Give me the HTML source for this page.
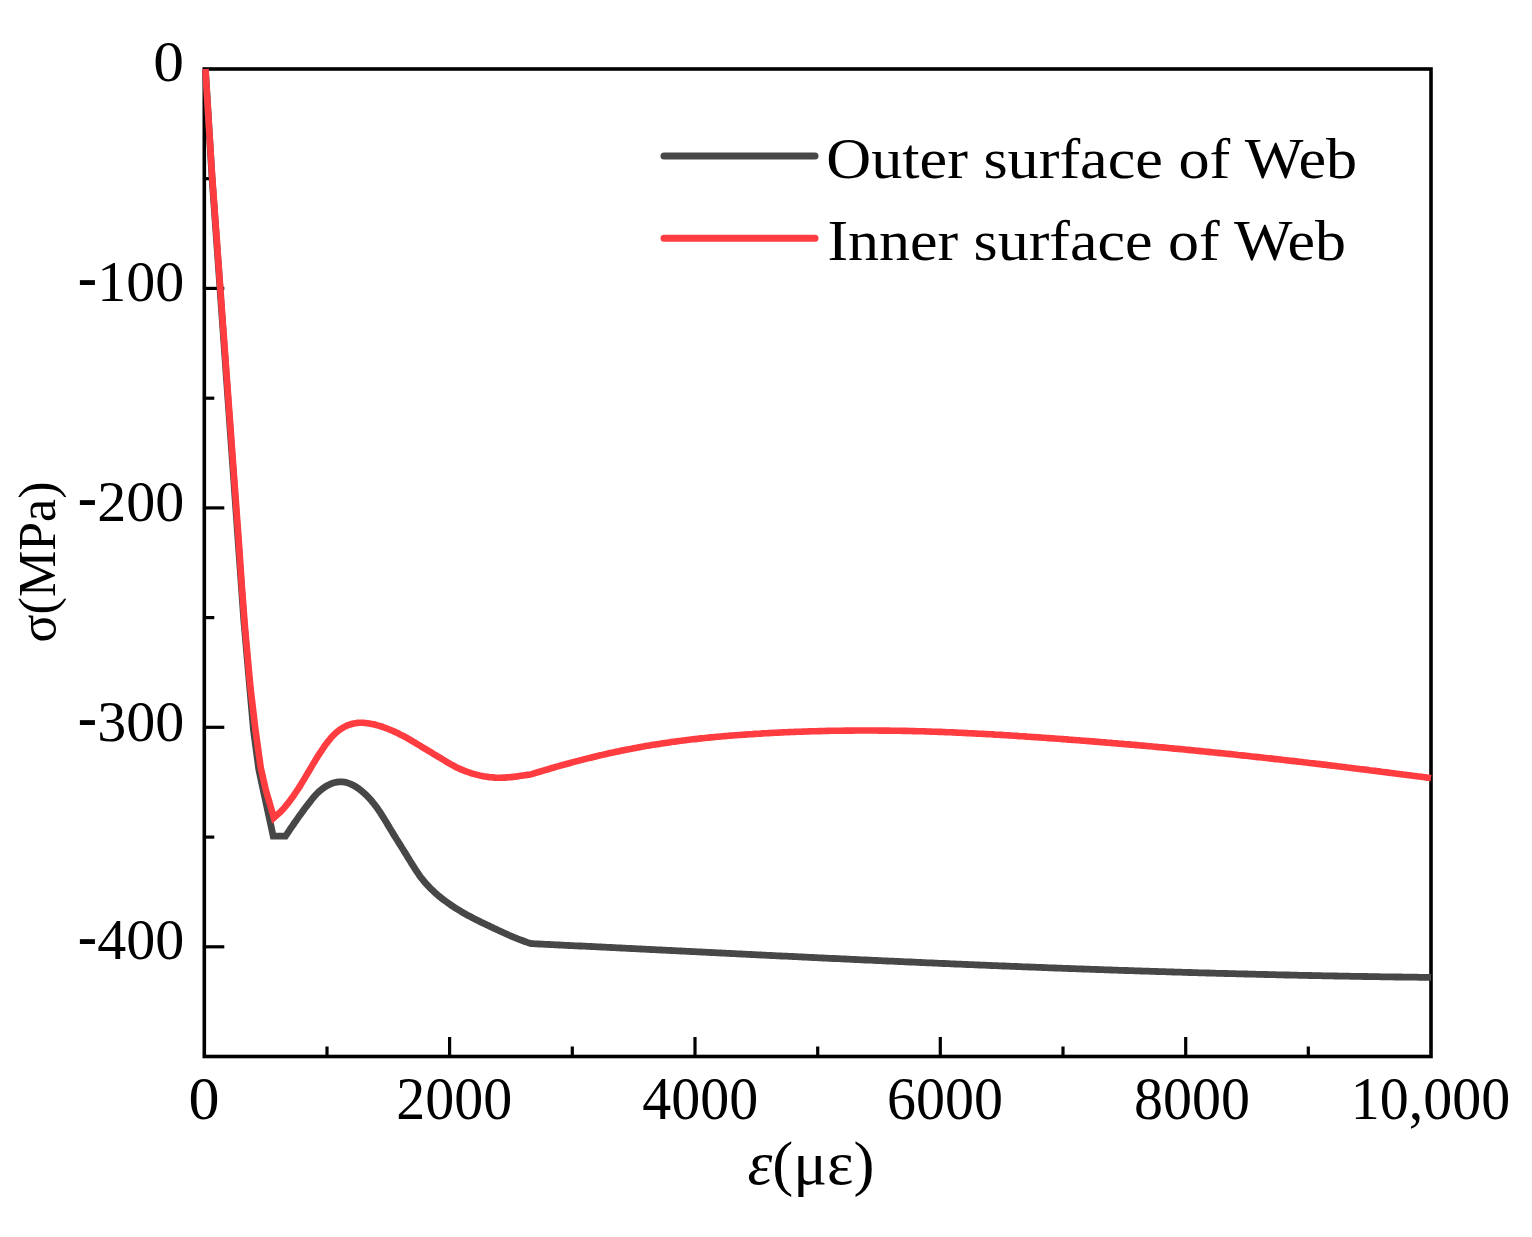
<!DOCTYPE html>
<html><head><meta charset="utf-8"><title>Stress-strain curves of web surfaces</title>
<style>
html,body{margin:0;padding:0;background:#fff;}
body{width:1532px;height:1237px;overflow:hidden;}
svg{display:block;}
text{font-family:"Liberation Serif","Times New Roman",serif;fill:#000;}
</style></head>
<body>
<svg width="1532" height="1237" viewBox="0 0 1532 1237">
<rect width="1532" height="1237" fill="#fff"/>
<g stroke="#000" stroke-width="3.2" fill="none">
<line x1="327.0" y1="1056.5" x2="327.0" y2="1046.5"/>
<line x1="449.6" y1="1056.5" x2="449.6" y2="1037.0"/>
<line x1="572.3" y1="1056.5" x2="572.3" y2="1046.5"/>
<line x1="695.0" y1="1056.5" x2="695.0" y2="1037.0"/>
<line x1="817.7" y1="1056.5" x2="817.7" y2="1046.5"/>
<line x1="940.3" y1="1056.5" x2="940.3" y2="1037.0"/>
<line x1="1063.0" y1="1056.5" x2="1063.0" y2="1046.5"/>
<line x1="1185.7" y1="1056.5" x2="1185.7" y2="1037.0"/>
<line x1="1308.3" y1="1056.5" x2="1308.3" y2="1046.5"/>
<line x1="204.3" y1="178.7" x2="214.3" y2="178.7"/>
<line x1="204.3" y1="288.4" x2="224.3" y2="288.4"/>
<line x1="204.3" y1="398.2" x2="214.3" y2="398.2"/>
<line x1="204.3" y1="507.9" x2="224.3" y2="507.9"/>
<line x1="204.3" y1="617.6" x2="214.3" y2="617.6"/>
<line x1="204.3" y1="727.3" x2="224.3" y2="727.3"/>
<line x1="204.3" y1="837.1" x2="214.3" y2="837.1"/>
<line x1="204.3" y1="946.8" x2="224.3" y2="946.8"/>
</g>
<rect x="204.3" y="69.0" width="1226.7" height="987.5" fill="none" stroke="#000" stroke-width="3.6"/>
<path d="M205.4,69L212,177L243.8,620L253.5,730L258.7,768.8L263.2,790L266.1,803.3L273.2,836.1L285.5,836.2L286.6,834.5L287.7,832.8L288.9,831.1L290,829.4L291.1,827.8L292.3,826.1L293.4,824.5L294.5,822.8L295.7,821.2L296.8,819.6L298,817.9L299.1,816.3L300.3,814.7L301.5,813.1L302.6,811.5L303.8,809.9L305,808.3L306.2,806.7L307.4,805.2L308.6,803.6L309.8,802L311.1,800.4L312.3,798.8L313.6,797.3L314.9,795.8L316.3,794.3L317.7,792.8L319.2,791.4L320.8,790.1L322.4,788.8L324.1,787.6L325.8,786.5L327.6,785.4L329.4,784.5L331.3,783.7L333.1,783L335,782.5L336.9,782.1L338.8,781.8L340.7,781.8L342.6,781.9L344.5,782.1L346.4,782.5L348.2,783.1L350.1,783.8L351.9,784.6L353.7,785.5L355.4,786.5L357.1,787.6L358.8,788.8L360.5,790.1L362.1,791.4L363.6,792.7L365.1,794.1L366.6,795.5L368,797L369.4,798.4L370.8,799.9L372.1,801.5L373.3,803L374.6,804.6L375.8,806.2L377,807.8L378.1,809.4L379.2,811.1L380.4,812.7L381.4,814.4L382.5,816.1L383.6,817.8L384.6,819.5L385.7,821.2L386.7,822.9L387.7,824.6L388.8,826.3L389.8,828.1L390.8,829.8L391.9,831.5L392.9,833.2L393.9,834.9L395,836.6L396,838.3L397.1,840L398.2,841.7L399.2,843.4L400.3,845.1L401.3,846.8L402.4,848.5L403.5,850.2L404.5,851.9L405.6,853.6L406.6,855.3L407.7,857.1L408.8,858.8L409.8,860.5L410.9,862.2L411.9,863.9L413,865.6L414.1,867.3L415.1,869L416.2,870.7L417.3,872.4L418.5,874L419.6,875.7L420.8,877.3L422.1,878.9L423.3,880.4L424.6,882L425.9,883.5L427.2,885L428.6,886.4L430,887.9L431.4,889.3L432.8,890.6L434.3,892L435.8,893.4L437.3,894.7L438.8,896L440.4,897.2L441.9,898.5L443.5,899.7L445.1,900.9L446.7,902.1L448.4,903.3L450,904.4L451.7,905.6L453.4,906.7L455.1,907.8L456.8,908.9L458.5,909.9L460.2,910.9L461.9,912L463.6,913L465.4,914L467.1,914.9L468.9,915.9L470.7,916.8L472.4,917.8L474.2,918.7L476,919.6L477.8,920.5L479.6,921.4L481.4,922.3L483.2,923.1L485,924L486.8,924.9L488.6,925.7L490.4,926.6L492.2,927.4L494,928.3L495.9,929.1L497.7,930L499.5,930.8L501.3,931.7L503.1,932.5L505,933.3L506.8,934.2L508.6,935L510.5,935.8L512.3,936.6L514.2,937.4L516,938.1L517.9,938.9L519.7,939.6L521.6,940.3L523.5,941L525.4,941.7L527.3,942.4L529.2,943L531.1,943.6L533.1,943.7L535.1,943.8L537.1,943.9L539.1,944L541.1,944.1L543.1,944.2L545.1,944.3L547.1,944.4L549.1,944.5L551.1,944.6L553.1,944.7L555.1,944.8L557.1,944.9L559.1,945L561.1,945.1L563.1,945.2L565.1,945.3L567.1,945.4L569.1,945.5L571.1,945.6L573.1,945.7L575.1,945.8L577.1,945.9L579.1,946L581.1,946L583.1,946.1L585.1,946.2L587.1,946.3L589.1,946.4L591.1,946.5L593.1,946.6L595.1,946.7L597.1,946.8L599.1,946.9L601.1,947L603.1,947.1L605.1,947.2L607.1,947.3L609.1,947.4L611.1,947.5L613.1,947.6L615,947.7L617,947.8L619,947.9L621,948L623,948.1L625,948.2L627,948.3L629,948.4L631,948.5L633,948.6L635,948.7L637,948.8L639,948.9L641,949L643,949.1L645,949.2L647,949.3L649,949.4L651,949.5L653,949.6L655,949.7L657,949.8L659,949.9L661,950L663,950.1L665,950.2L667,950.3L669,950.4L671,950.5L673,950.6L675,950.7L677,950.8L679,950.9L681,951L683,951.1L685,951.2L687,951.3L689,951.4L691,951.5L693,951.6L695,951.7L697,951.8L699,951.9L701,952L703,952.1L705,952.2L707,952.3L709,952.4L711,952.5L713,952.6L715,952.7L717,952.8L719,952.9L721,953L723,953.1L725,953.2L727,953.3L729,953.4L731,953.5L733,953.6L735,953.7L737,953.8L739,953.9L741,954L743,954.1L745,954.2L747,954.3L749,954.4L751,954.5L753,954.6L755,954.7L757,954.8L759,954.9L761,955L763,955.1L765,955.2L767,955.3L769,955.4L771,955.5L773,955.6L775,955.7L777,955.8L779,955.9L781,956L783,956.1L785,956.2L787,956.2L789,956.3L791,956.4L793,956.5L794.9,956.6L796.9,956.7L798.9,956.8L800.9,956.9L802.9,957L804.9,957.1L806.9,957.2L808.9,957.3L810.9,957.4L812.9,957.5L814.9,957.6L816.9,957.7L818.9,957.8L820.9,957.9L822.9,958L824.9,958.1L826.9,958.2L828.9,958.3L830.9,958.4L832.9,958.5L834.9,958.5L836.9,958.6L838.9,958.7L840.9,958.8L842.9,958.9L844.9,959L846.9,959.1L848.9,959.2L850.9,959.3L852.9,959.4L854.9,959.5L856.9,959.6L858.9,959.7L860.9,959.8L862.9,959.9L864.9,960L866.9,960L868.9,960.1L870.9,960.2L872.9,960.3L874.9,960.4L876.9,960.5L878.9,960.6L880.9,960.7L882.9,960.8L884.9,960.9L886.9,961L888.9,961.1L890.9,961.1L892.9,961.2L894.9,961.3L896.9,961.4L898.9,961.5L900.9,961.6L902.9,961.7L904.9,961.8L906.9,961.9L908.9,962L910.9,962L912.9,962.1L914.9,962.2L916.9,962.3L918.9,962.4L920.9,962.5L922.9,962.6L924.9,962.7L926.9,962.8L928.9,962.8L930.9,962.9L932.9,963L934.9,963.1L936.9,963.2L938.9,963.3L940.9,963.4L942.9,963.5L944.9,963.5L946.9,963.6L948.9,963.7L950.9,963.8L952.9,963.9L954.9,964L956.9,964.1L958.9,964.1L960.9,964.2L962.9,964.3L964.9,964.4L966.9,964.5L968.9,964.6L970.9,964.6L972.9,964.7L974.9,964.8L976.9,964.9L978.9,965L980.9,965.1L982.9,965.1L984.9,965.2L986.9,965.3L988.9,965.4L990.9,965.5L992.9,965.6L994.9,965.6L996.9,965.7L998.9,965.8L1000.9,965.9L1002.9,966L1004.9,966L1006.9,966.1L1008.9,966.2L1010.9,966.3L1012.9,966.4L1014.9,966.4L1016.9,966.5L1018.9,966.6L1020.9,966.7L1022.9,966.8L1024.9,966.8L1026.9,966.9L1028.9,967L1030.9,967.1L1032.9,967.1L1034.9,967.2L1036.9,967.3L1038.9,967.4L1040.9,967.4L1042.9,967.5L1044.9,967.6L1046.9,967.7L1048.9,967.8L1050.9,967.8L1052.9,967.9L1054.9,968L1056.9,968.1L1058.9,968.1L1060.9,968.2L1062.9,968.3L1064.9,968.4L1066.9,968.4L1068.9,968.5L1070.9,968.6L1072.9,968.6L1074.9,968.7L1076.9,968.8L1078.9,968.9L1080.9,968.9L1082.9,969L1084.9,969.1L1086.9,969.1L1088.9,969.2L1090.9,969.3L1092.9,969.4L1094.9,969.4L1096.9,969.5L1098.9,969.6L1100.9,969.6L1102.9,969.7L1104.9,969.8L1106.9,969.9L1108.9,969.9L1110.9,970L1112.9,970.1L1114.9,970.1L1116.9,970.2L1118.9,970.3L1120.9,970.3L1122.9,970.4L1124.9,970.5L1126.9,970.5L1128.9,970.6L1130.9,970.7L1132.9,970.7L1134.9,970.8L1136.9,970.9L1138.9,970.9L1140.9,971L1142.9,971.1L1144.9,971.1L1146.9,971.2L1148.9,971.2L1150.9,971.3L1152.9,971.4L1154.9,971.4L1156.9,971.5L1158.9,971.6L1160.9,971.6L1162.9,971.7L1164.9,971.7L1166.9,971.8L1168.9,971.9L1170.9,971.9L1172.9,972L1174.9,972.1L1176.9,972.1L1178.9,972.2L1180.9,972.2L1182.9,972.3L1184.9,972.3L1186.9,972.4L1188.9,972.5L1190.9,972.5L1192.9,972.6L1194.9,972.6L1196.9,972.7L1198.9,972.8L1200.9,972.8L1202.9,972.9L1204.9,972.9L1206.9,973L1208.9,973L1210.9,973.1L1212.9,973.2L1214.9,973.2L1216.9,973.3L1218.9,973.3L1220.9,973.4L1222.9,973.4L1224.9,973.5L1226.9,973.5L1228.9,973.6L1230.9,973.6L1232.9,973.7L1234.9,973.7L1236.9,973.8L1238.9,973.8L1240.9,973.9L1242.9,973.9L1244.9,974L1246.9,974L1248.9,974.1L1250.9,974.1L1252.9,974.2L1254.9,974.2L1256.9,974.3L1258.9,974.3L1260.9,974.4L1262.9,974.4L1264.9,974.5L1266.9,974.5L1268.9,974.6L1270.9,974.6L1272.9,974.7L1274.9,974.7L1276.9,974.8L1278.9,974.8L1280.9,974.9L1282.9,974.9L1284.9,975L1286.9,975L1288.9,975L1290.9,975.1L1292.9,975.1L1294.9,975.2L1296.9,975.2L1298.9,975.3L1300.9,975.3L1302.9,975.3L1304.9,975.4L1306.9,975.4L1308.9,975.5L1310.9,975.5L1312.9,975.6L1314.9,975.6L1316.9,975.6L1318.9,975.7L1320.9,975.7L1322.9,975.8L1324.9,975.8L1326.9,975.8L1328.9,975.9L1330.9,975.9L1332.9,975.9L1334.9,976L1336.9,976L1338.9,976.1L1340.9,976.1L1342.9,976.1L1344.9,976.2L1346.9,976.2L1348.9,976.2L1350.9,976.3L1352.9,976.3L1354.9,976.3L1357,976.4L1359,976.4L1361,976.4L1363,976.5L1365,976.5L1367,976.5L1369,976.6L1371,976.6L1373,976.6L1375,976.7L1377,976.7L1379,976.7L1381,976.8L1383,976.8L1385,976.8L1387,976.8L1389,976.9L1391,976.9L1393,976.9L1395,977L1397,977L1399,977L1401,977L1403,977.1L1405,977.1L1407,977.1L1409,977.1L1411,977.2L1413,977.2L1415,977.2L1417,977.2L1419,977.3L1421,977.3L1423,977.3L1425,977.3L1427,977.4L1429,977.4L1431,977.4" fill="none" stroke="#474747" stroke-width="6.8" stroke-linejoin="miter" stroke-miterlimit="6"/>
<path d="M205.4,69L212.2,177L229.9,420L238.7,540L242,588.5L245.2,630L250.5,688L255.5,730L260.8,768L265.8,790L273.9,817.8L281.3,811.1L282.7,809.6L284,808.1L285.3,806.5L286.6,805L287.9,803.4L289.1,801.8L290.3,800.2L291.5,798.6L292.7,797L293.8,795.4L294.9,793.7L296,792.1L297.1,790.4L298.2,788.8L299.3,787.1L300.4,785.4L301.4,783.7L302.4,782L303.5,780.3L304.5,778.6L305.5,776.9L306.5,775.2L307.5,773.5L308.6,771.8L309.6,770L310.6,768.3L311.6,766.6L312.6,764.9L313.6,763.2L314.7,761.5L315.7,759.7L316.8,758L317.8,756.3L318.9,754.6L320,752.9L321.1,751.3L322.2,749.6L323.4,747.9L324.5,746.2L325.7,744.6L326.9,743L328.1,741.3L329.4,739.8L330.7,738.2L332,736.7L333.4,735.2L334.8,733.8L336.3,732.5L337.8,731.2L339.4,730L341,728.9L342.7,727.8L344.4,726.9L346.2,726L348,725.2L349.8,724.6L351.7,724L353.6,723.5L355.6,723.2L357.5,722.9L359.5,722.8L361.5,722.8L363.4,722.8L365.4,723L367.4,723.2L369.4,723.5L371.4,723.9L373.4,724.3L375.4,724.8L377.4,725.4L379.3,725.9L381.3,726.5L383.2,727.2L385.1,727.8L387,728.5L388.8,729.3L390.7,730L392.5,730.8L394.4,731.6L396.2,732.4L398,733.3L399.7,734.2L401.5,735.1L403.3,736L405,736.9L406.8,737.9L408.5,738.9L410.2,739.9L411.9,740.9L413.6,741.9L415.4,742.9L417.1,744L418.8,745L420.5,746L422.2,747.1L423.9,748.1L425.6,749.1L427.3,750.2L429,751.2L430.8,752.2L432.5,753.3L434.2,754.3L435.9,755.3L437.6,756.4L439.3,757.4L441.1,758.4L442.8,759.5L444.5,760.5L446.2,761.6L447.9,762.6L449.7,763.6L451.4,764.6L453.2,765.5L454.9,766.5L456.7,767.4L458.5,768.2L460.4,769.1L462.2,769.8L464,770.6L465.9,771.3L467.8,772L469.7,772.7L471.6,773.3L473.5,773.9L475.4,774.4L477.3,774.9L479.3,775.4L481.2,775.8L483.2,776.2L485.1,776.5L487.1,776.8L489.1,777.1L491.1,777.3L493,777.4L495,777.6L497,777.7L499,777.7L501,777.7L503,777.6L505,777.6L507.1,777.4L509.1,777.3L511.1,777.1L513.1,776.9L515.1,776.6L517.1,776.4L519.1,776.1L521.1,775.8L523,775.5L525,775.2L527,774.9L529,774.7L530.9,774.4L532.8,773.8L534.7,773.2L536.6,772.6L538.5,772L540.5,771.5L542.4,770.9L544.3,770.3L546.2,769.7L548.1,769.2L550.1,768.6L552,768L553.9,767.5L555.8,766.9L557.8,766.4L559.7,765.8L561.6,765.3L563.5,764.8L565.5,764.2L567.4,763.7L569.3,763.2L571.3,762.6L573.2,762.1L575.1,761.6L577.1,761.1L579,760.6L580.9,760.1L582.9,759.6L584.8,759.1L586.8,758.6L588.7,758.1L590.6,757.7L592.6,757.2L594.5,756.7L596.5,756.2L598.4,755.8L600.4,755.3L602.3,754.9L604.3,754.4L606.2,754L608.2,753.5L610.1,753.1L612.1,752.7L614,752.3L616,751.8L618,751.4L619.9,751L621.9,750.6L623.8,750.2L625.8,749.8L627.8,749.4L629.7,749L631.7,748.7L633.7,748.3L635.6,747.9L637.6,747.6L639.6,747.2L641.5,746.8L643.5,746.5L645.5,746.1L647.4,745.8L649.4,745.5L651.4,745.1L653.4,744.8L655.3,744.5L657.3,744.2L659.3,743.9L661.3,743.6L663.2,743.3L665.2,743L667.2,742.7L669.2,742.4L671.2,742.1L673.1,741.8L675.1,741.6L677.1,741.3L679.1,741L681.1,740.8L683.1,740.5L685,740.3L687,740L689,739.8L691,739.5L693,739.3L695,739.1L697,738.9L698.9,738.6L700.9,738.4L702.9,738.2L704.9,738L706.9,737.8L708.9,737.6L710.9,737.4L712.9,737.2L714.9,737L716.9,736.8L718.9,736.7L720.9,736.5L722.9,736.3L724.9,736.1L726.8,736L728.8,735.8L730.8,735.6L732.8,735.5L734.8,735.3L736.8,735.2L738.8,735L740.8,734.9L742.8,734.7L744.8,734.6L746.8,734.5L748.8,734.3L750.8,734.2L752.8,734.1L754.8,733.9L756.8,733.8L758.8,733.7L760.8,733.6L762.8,733.4L764.8,733.3L766.8,733.2L768.8,733.1L770.8,733L772.8,732.9L774.8,732.8L776.8,732.7L778.8,732.6L780.8,732.5L782.8,732.4L784.8,732.3L786.8,732.2L788.8,732.1L790.8,732L792.8,732L794.8,731.9L796.8,731.8L798.8,731.7L800.8,731.7L802.8,731.6L804.8,731.5L806.8,731.5L808.8,731.4L810.8,731.3L812.8,731.3L814.8,731.2L816.8,731.2L818.8,731.1L820.8,731.1L822.8,731L824.8,731L826.8,730.9L828.8,730.9L830.8,730.8L832.8,730.8L834.8,730.8L836.8,730.7L838.8,730.7L840.8,730.7L842.8,730.7L844.8,730.6L846.8,730.6L848.8,730.6L850.8,730.6L852.8,730.6L854.8,730.5L856.8,730.5L858.9,730.5L860.9,730.5L862.9,730.5L864.9,730.5L866.9,730.5L868.9,730.5L870.9,730.5L872.9,730.5L874.9,730.5L876.9,730.5L878.9,730.6L880.9,730.6L882.9,730.6L884.9,730.6L886.9,730.6L888.9,730.6L890.9,730.7L892.9,730.7L894.9,730.7L896.9,730.8L898.9,730.8L900.9,730.8L902.9,730.9L904.9,730.9L906.9,730.9L908.9,731L910.9,731L912.9,731.1L914.9,731.1L916.9,731.2L918.9,731.2L920.9,731.3L922.9,731.3L924.9,731.4L926.9,731.5L928.9,731.5L930.9,731.6L932.9,731.7L934.9,731.7L936.9,731.8L938.9,731.9L940.9,731.9L942.9,732L944.9,732.1L946.9,732.2L948.9,732.3L950.9,732.3L952.9,732.4L954.9,732.5L956.9,732.6L958.9,732.7L960.9,732.8L962.9,732.9L964.9,733L966.9,733.1L968.9,733.2L970.9,733.3L972.9,733.4L974.9,733.5L976.9,733.6L978.9,733.7L980.9,733.8L982.9,733.9L984.9,734L986.9,734.1L988.9,734.2L990.9,734.3L992.9,734.4L994.9,734.6L996.9,734.7L998.9,734.8L1000.9,734.9L1002.9,735L1004.9,735.2L1006.9,735.3L1008.9,735.4L1010.9,735.5L1012.9,735.7L1014.8,735.8L1016.8,735.9L1018.8,736.1L1020.8,736.2L1022.8,736.3L1024.8,736.4L1026.8,736.6L1028.8,736.7L1030.8,736.9L1032.8,737L1034.8,737.1L1036.8,737.3L1038.8,737.4L1040.8,737.5L1042.8,737.7L1044.8,737.8L1046.8,738L1048.8,738.1L1050.8,738.3L1052.8,738.4L1054.8,738.5L1056.8,738.7L1058.8,738.8L1060.8,739L1062.8,739.1L1064.8,739.3L1066.8,739.4L1068.8,739.6L1070.8,739.7L1072.8,739.9L1074.8,740L1076.8,740.2L1078.8,740.3L1080.7,740.5L1082.7,740.7L1084.7,740.8L1086.7,741L1088.7,741.1L1090.7,741.3L1092.7,741.4L1094.7,741.6L1096.7,741.8L1098.7,741.9L1100.7,742.1L1102.7,742.2L1104.7,742.4L1106.7,742.6L1108.7,742.7L1110.7,742.9L1112.7,743.1L1114.7,743.2L1116.7,743.4L1118.7,743.6L1120.7,743.7L1122.6,743.9L1124.6,744.1L1126.6,744.2L1128.6,744.4L1130.6,744.6L1132.6,744.8L1134.6,744.9L1136.6,745.1L1138.6,745.3L1140.6,745.5L1142.6,745.6L1144.6,745.8L1146.6,746L1148.6,746.2L1150.6,746.3L1152.6,746.5L1154.6,746.7L1156.5,746.9L1158.5,747.1L1160.5,747.2L1162.5,747.4L1164.5,747.6L1166.5,747.8L1168.5,748L1170.5,748.2L1172.5,748.4L1174.5,748.6L1176.5,748.7L1178.5,748.9L1180.5,749.1L1182.5,749.3L1184.4,749.5L1186.4,749.7L1188.4,749.9L1190.4,750.1L1192.4,750.3L1194.4,750.5L1196.4,750.7L1198.4,750.9L1200.4,751.1L1202.4,751.3L1204.4,751.5L1206.4,751.7L1208.3,751.9L1210.3,752.1L1212.3,752.3L1214.3,752.5L1216.3,752.7L1218.3,752.9L1220.3,753.1L1222.3,753.3L1224.3,753.5L1226.3,753.7L1228.3,753.9L1230.3,754.1L1232.2,754.3L1234.2,754.5L1236.2,754.7L1238.2,755L1240.2,755.2L1242.2,755.4L1244.2,755.6L1246.2,755.8L1248.2,756L1250.2,756.2L1252.1,756.5L1254.1,756.7L1256.1,756.9L1258.1,757.1L1260.1,757.3L1262.1,757.5L1264.1,757.8L1266.1,758L1268.1,758.2L1270.1,758.4L1272,758.6L1274,758.9L1276,759.1L1278,759.3L1280,759.5L1282,759.8L1284,760L1286,760.2L1288,760.4L1289.9,760.7L1291.9,760.9L1293.9,761.1L1295.9,761.3L1297.9,761.6L1299.9,761.8L1301.9,762L1303.9,762.3L1305.9,762.5L1307.8,762.7L1309.8,763L1311.8,763.2L1313.8,763.4L1315.8,763.7L1317.8,763.9L1319.8,764.1L1321.8,764.4L1323.7,764.6L1325.7,764.8L1327.7,765.1L1329.7,765.3L1331.7,765.6L1333.7,765.8L1335.7,766L1337.7,766.3L1339.6,766.5L1341.6,766.8L1343.6,767L1345.6,767.2L1347.6,767.5L1349.6,767.7L1351.6,768L1353.6,768.2L1355.5,768.5L1357.5,768.7L1359.5,769L1361.5,769.2L1363.5,769.4L1365.5,769.7L1367.5,769.9L1369.5,770.2L1371.4,770.4L1373.4,770.7L1375.4,770.9L1377.4,771.2L1379.4,771.4L1381.4,771.7L1383.4,771.9L1385.3,772.2L1387.3,772.4L1389.3,772.7L1391.3,773L1393.3,773.2L1395.3,773.5L1397.3,773.7L1399.2,774L1401.2,774.2L1403.2,774.5L1405.2,774.7L1407.2,775L1409.2,775.2L1411.2,775.5L1413.1,775.8L1415.1,776L1417.1,776.3L1419.1,776.5L1421.1,776.8L1423.1,777.1L1425,777.3L1427,777.6L1429,777.8L1431,778.1" fill="none" stroke="#ff3c40" stroke-width="6.6" stroke-linejoin="miter" stroke-miterlimit="6"/>
<g font-size="58">
<text transform="translate(184.0,81.3) scale(1.06,1)" text-anchor="end">0</text>
<text x="184.2" y="301" text-anchor="end"><tspan dy="-4.6" style="font-weight:bold">-</tspan><tspan dy="4.6">100</tspan></text>
<text x="184.2" y="521" text-anchor="end"><tspan dy="-4.6" style="font-weight:bold">-</tspan><tspan dy="4.6">200</tspan></text>
<text x="184.2" y="740.7" text-anchor="end"><tspan dy="-4.6" style="font-weight:bold">-</tspan><tspan dy="4.6">300</tspan></text>
<text x="184.2" y="959.3" text-anchor="end"><tspan dy="-4.6" style="font-weight:bold">-</tspan><tspan dy="4.6">400</tspan></text>
<text transform="translate(204,1119) scale(1.07,1.045)" text-anchor="middle">0</text>
<text transform="translate(454.3,1119) scale(1,1.045)" text-anchor="middle">2000</text>
<text transform="translate(700.3,1119) scale(1,1.045)" text-anchor="middle">4000</text>
<text transform="translate(945,1119) scale(1,1.045)" text-anchor="middle">6000</text>
<text transform="translate(1192,1119) scale(1,1.045)" text-anchor="middle">8000</text>
<text transform="translate(1430.4,1119) scale(1,1.045)" text-anchor="middle">10,000</text>
</g>
<text transform="translate(811,1183.8) scale(1,1.04)" font-size="58" text-anchor="middle" textLength="127" lengthAdjust="spacingAndGlyphs"><tspan style="font-style:italic">ε</tspan>(με)</text>
<text transform="translate(55.1,562) rotate(-90)" font-size="52" text-anchor="middle">σ(MPa)</text>
<line x1="664" y1="156" x2="815" y2="156" stroke="#474747" stroke-width="7" stroke-linecap="round"/>
<line x1="664" y1="238.2" x2="815" y2="238.2" stroke="#ff3c40" stroke-width="7" stroke-linecap="round"/>
<text x="826.3" y="177.5" font-size="58" textLength="530.8" lengthAdjust="spacingAndGlyphs">Outer surface of Web</text>
<text x="827.4" y="260.1" font-size="58" textLength="518.5" lengthAdjust="spacingAndGlyphs">Inner surface of Web</text>
</svg>
</body></html>
